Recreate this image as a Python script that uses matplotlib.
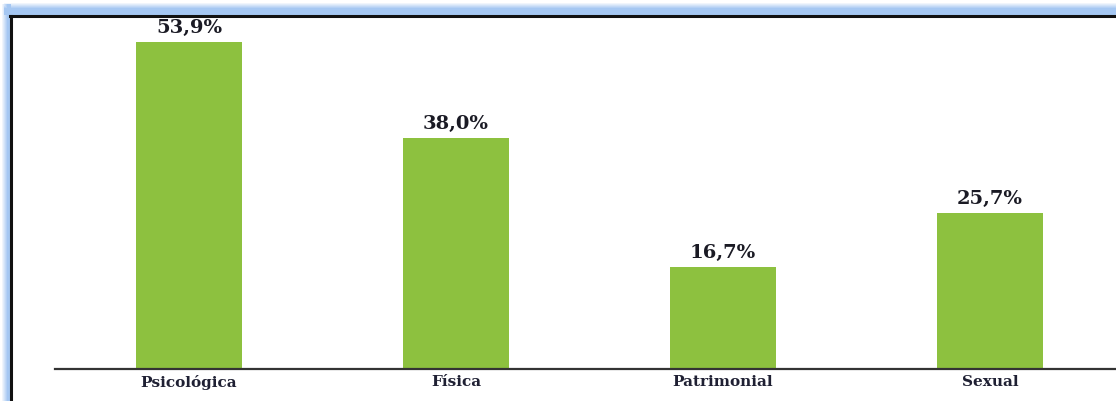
import matplotlib
matplotlib.use("Agg")
import matplotlib.pyplot as plt
import numpy as np
from matplotlib.lines import Line2D

categories = ["Psicológica", "Física", "Patrimonial", "Sexual"]
values = [53.9, 38.0, 16.7, 25.7]
value_labels = ["53,9%", "38,0%", "16,7%", "25,7%"]

W, H = 1116, 401
fig = plt.figure(figsize=(W / 100, H / 100), dpi=100)
fig.patch.set_facecolor("white")

# blue glow image (top and left), built as RGBA pixels
img = np.ones((H, W, 4))
img[..., 3] = 0.0
blue = np.array([0.63, 0.77, 0.95])
def ramp(d):
    # d = distance inside glow, 0 at outer edge
    return np.clip(d / 6.0, 0, 1) * 0.95
for yy in range(0, 15):
    a = ramp(yy - 2)
    img[yy, 4:, :3] = blue
    img[yy, 4:, 3] = np.maximum(img[yy, 4:, 3], a)
for xx in range(0, 11):
    a = ramp(xx - 1)
    img[4:, xx, :3] = blue
    img[4:, xx, 3] = np.maximum(img[4:, xx, 3], a)
fig.figimage(img, xo=0, yo=0, origin="upper", zorder=0)

# black frame lines
fig.lines.append(Line2D([10 / W, 1], [1 - 15.5 / H, 1 - 15.5 / H],
                        transform=fig.transFigure, color="#111111", lw=2.2))
fig.lines.append(Line2D([11 / W, 11 / W], [0, 1 - 15.5 / H],
                        transform=fig.transFigure, color="#111111", lw=2.2))

# axes
left, right = 55, 1116
bottom_px, top_px = 368.5, 17
ax = fig.add_axes([left / W, 1 - bottom_px / H, (right - left) / W, (bottom_px - top_px) / H])
ax.set_facecolor("none")

x = list(range(len(categories)))
ax.bar(x, values, width=0.4, color="#8dc13f", zorder=2)
ax.set_xlim(-0.502, 3.472)
ax.set_ylim(0, (bottom_px - top_px) / 6.06)

for xi, v, lab in zip(x, values, value_labels):
    ax.annotate(lab, (xi, v), xytext=(0, 9), textcoords="offset pixels",
                ha="center", va="baseline", fontsize=14, fontweight="heavy",
                family="DejaVu Serif", color="#1a1a24")

ax.set_xticks(x)
ax.set_xticklabels(categories, family="DejaVu Serif", fontweight="bold",
                   fontsize=11, color="#1f2033")
ax.tick_params(axis="x", length=0, pad=5)
ax.set_yticks([])
for s in ["top", "right", "left"]:
    ax.spines[s].set_visible(False)
ax.spines["bottom"].set_color("#333333")
ax.spines["bottom"].set_linewidth(1.6)

fig.savefig("out.png", dpi=100)
